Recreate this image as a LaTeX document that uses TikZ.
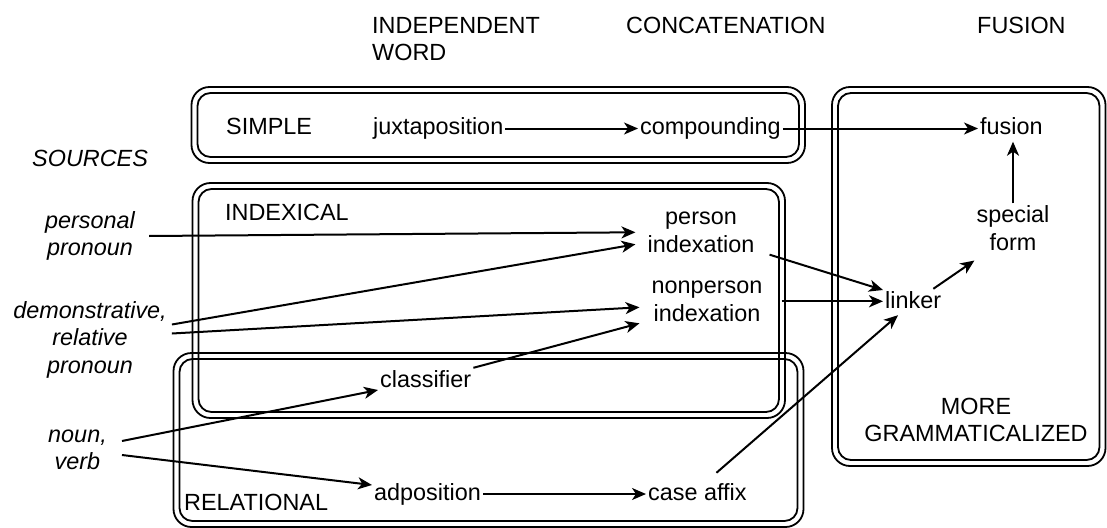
\documentclass[tikz,border=0pt]{standalone}
\usepackage{fontspec}
\setmainfont{Liberation Sans}
\usetikzlibrary{arrows.meta}
% two rounded outlines, one inside the other
\newcommand{\twofold}[4]{%
  \draw[boxline, rounded corners=18pt] (#1-3,#2-3) rectangle (#3+3,#4+3);
  \draw[boxline, rounded corners=13pt] (#1+3,#2+3) rectangle (#3-3,#4-3);}
\tikzset{>={Stealth[length=14pt,width=12pt,inset=4pt]},
  boxline/.style={line width=1.8pt},
  link/.style={->, line width=2pt},
  lbl/.style={font=\fontsize{23.4}{27.5}\selectfont, inner sep=2pt, text height=17pt, text depth=5pt},
  multi/.style={font=\fontsize{23.4}{27.5}\selectfont, inner sep=2pt, align=center},
  src/.style={multi, font=\fontsize{23.4}{27.5}\selectfont\itshape}
}
\begin{document}
\begin{tikzpicture}[x=1pt, y=-1pt]
\useasboundingbox (0,0) rectangle (1107,527);
% group boxes
\twofold{194.5}{90}{802}{160}
\twofold{195.5}{186}{782}{415}
\twofold{176.5}{356}{800.5}{524}
\twofold{835}{90}{1102.5}{463}

% column heads
\node[multi, align=left, anchor=north west] (indep) at (370,15) {INDEPENDENT\\WORD};
\node[lbl, anchor=base west] (concat) at (624,34) {CONCATENATION};
\node[lbl, anchor=base west] (fushead) at (975,34) {FUSION};

% group labels
\node[lbl, anchor=base west] (simple) at (224,134.5) {SIMPLE};
\node[lbl, anchor=base west] (indexical) at (223,220) {INDEXICAL};
\node[lbl, anchor=base west] (relational) at (182,510) {RELATIONAL};
\node[multi] (moregram) at (976,420) {MORE\\GRAMMATICALIZED};
\node[lbl, font=\fontsize{23.4}{27.5}\selectfont\itshape, anchor=base west] (sources) at (30,166) {SOURCES};

% sources
\node[src] (perspro) at (90,236) {personal\\pronoun};
\node[src] (demrel) at (90,339.5) {demonstrative,\\relative\\pronoun};
\node[src] (nounverb) at (77.5,450) {noun,\\verb};

% forms
\node[lbl, anchor=base west] (juxta) at (371,134.5) {juxtaposition};
\node[lbl, anchor=base west] (compound) at (638,134.5) {compounding};
\node[lbl, anchor=base west] (fusion) at (978,134.5) {fusion};
\node[multi, inner xsep=12pt] (person) at (701,232.3) {person\\indexation};
\node[multi, inner xsep=12pt] (nonperson) at (707,301.3) {nonperson\\indexation};
\node[lbl, anchor=base west] (classifier) at (378,387) {classifier};
\node[lbl, anchor=base west] (adpos) at (372,500) {adposition};
\node[lbl, anchor=base west] (caseaffix) at (646,500) {case affix};
\node[lbl, anchor=base west] (linker) at (883,308) {linker};
\node[multi] (special) at (1013,228) {special\\form};

% paths
\draw[link] (juxta) -- (compound);
\draw[link] (compound.east) -- (compound.east -| fusion.west);
\draw[link] ([xshift=12pt]perspro.east) -- (person.west);
\draw[link] ([xshift=3pt,yshift=15pt]demrel.east) -- ([yshift=-12pt]person.west);
\draw[link] ([xshift=3pt,yshift=6pt]demrel.east) -- ([yshift=-6pt]nonperson.west);
\draw[link] (classifier.north east) -- ([yshift=-22pt]nonperson.west);
\draw[link] ([xshift=13pt,yshift=9pt]nounverb.east) -- ([yshift=-9pt]classifier.west);
\draw[link] ([xshift=13pt,yshift=-5pt]nounverb.east) -- ([yshift=9pt]adpos.west);
\draw[link] (adpos) -- (caseaffix);
\draw[link] ([xshift=3pt]person.south east) -- ([yshift=12pt]linker.west);
\draw[link] ([xshift=7pt]nonperson.east) -- (nonperson.east -| linker.west);
\draw[link] ([xshift=19pt,yshift=8pt]caseaffix.north) -- ([xshift=15pt]linker.south west);
\draw[link] ([xshift=-10pt]linker.north east) -- ([yshift=-8pt]special.south west);
\draw[link] (special.north) -- (special.north |- fusion.south);
\end{tikzpicture}
\end{document}
